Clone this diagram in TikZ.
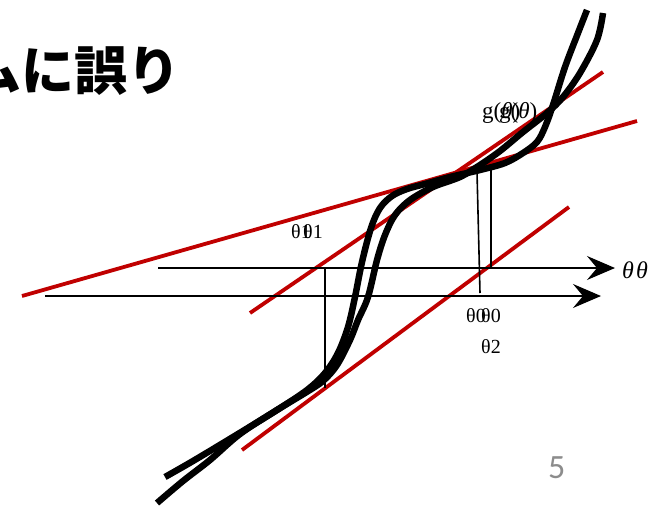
\documentclass[tikz,border=0pt]{standalone}
\usepackage{fontspec}
\setmainfont{Liberation Serif}
\newfontfamily\jpfont{Noto Sans CJK JP}
\newfontfamily\pagefont{Carlito}
\usepackage{tikz}
\usetikzlibrary{arrows.meta,calc,positioning}
\definecolor{tanred}{HTML}{C00000}
\definecolor{pagegray}{HTML}{8C8C8C}
\tikzset{
  gcurve/.style={line width=6.5pt, black, line join=round},
  tangent/.style={line width=3.8pt, tanred},
  axis/.style={line width=1.4pt, -{Stealth[length=28pt,width=24pt,inset=10pt]}},
  guide/.style={line width=1.6pt},
  lbl/.style={inner sep=0pt, anchor=base west, font=\fontsize{20}{20}\selectfont},
  ilbl/.style={inner sep=0pt, anchor=base west, font=\fontsize{23}{23}\selectfont},
}

\begin{document}
\begin{tikzpicture}[x=1pt, y=-1pt]
	\useasboundingbox (0,0) rectangle (661,507);
	\node[inner sep=0pt, anchor=east, font=\jpfont\bfseries\fontsize{53}{53}\selectfont] (title) at (181,71) {ムに誤り};

	\coordinate (ax1s) at (158,268);
	\coordinate (ax1e) at (615,268);
	\coordinate (ax2s) at (45,296);
	\coordinate (ax2e) at (601,296);

	\draw[tangent] (22,296) -- (637,121);
	\draw[tangent] (250,313) -- (603,72);
	\draw[tangent] (242,450) -- (569,207);

	\draw[axis] (ax1s) -- (ax1e);
	\draw[axis] (ax2s) -- (ax2e);

	\draw[guide] (325,269) -- (325,388);
	\draw[guide] (477,172) -- (480,293);
	\draw[guide] (491,170) -- (491,267);

	\draw[gcurve] plot[smooth, tension=0.55] coordinates {
		(165,477) (193,461) (233,437) (277,410) (307,390) (325,373) (338,353)
		(348,327) (355,297) (362,262) (371,228) (380,208) (392,196) (407,189)
		(425,184) (450,177) (480,170) (505,163) (523,153) (537,142) (545,127)
		(553,105) (565,67) (578,33) (587,10)};
	\draw[gcurve] plot[smooth, tension=0.55] coordinates {
		(157,503) (183,481) (210,460) (240,434) (277,410) (305,393) (323,381)
		(337,365) (350,340) (358,320) (368,297) (377,260) (385,235) (395,215)
		(410,200) (433,187) (460,177) (480,165) (500,151) (523,132) (547,113)
		(563,97) (580,73) (597,40) (603,13)};

	\node[ilbl] (ga) at (482,118) {g(\textit{θ})};
	\node[ilbl] (gb) at (499,118) {g(\textit{θ})};
	\node[lbl] (ta) at (291,238) {θ1};
	\node[lbl] (tb) at (303,238) {θ1};
	\node[lbl] (za) at (466,322) {θ0};
	\node[lbl] (zb) at (481,322) {θ0};
	\node[lbl] (tc) at (481,353) {θ2};
	\node[ilbl, font=\fontsize{24}{24}\selectfont\itshape] (xa) at (622,278) {θ};
	\node[ilbl, font=\fontsize{24}{24}\selectfont\itshape] (xb) at (636,278) {θ};
	\node[inner sep=0pt, anchor=base west, text=pagegray, font=\pagefont\fontsize{34}{34}\selectfont] (pg) at (548,478) {5};
\end{tikzpicture}
\end{document}
